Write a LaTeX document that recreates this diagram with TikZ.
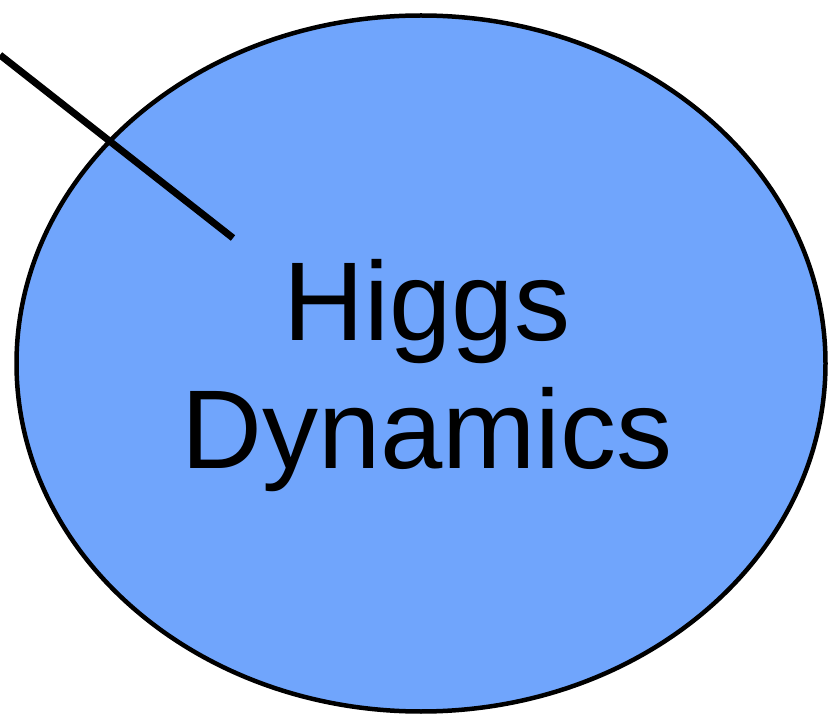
\documentclass[tikz,border=0pt]{standalone}
\usepackage{fontspec}
\setmainfont{Liberation Sans}
\usepackage{xcolor}
\usetikzlibrary{shapes.geometric, positioning}
\definecolor{higgsblue}{RGB}{112,165,252}

\begin{document}
\begin{tikzpicture}[x=1pt, y=1pt,
    blob/.style={ellipse, draw=black, line width=4.5pt, fill=higgsblue,
                 minimum width=809pt, minimum height=696pt, inner sep=0pt},
    bigtext/.style={align=center, font=\fontsize{112}{128}\selectfont},
    pointer/.style={line width=7pt}]

    % --- FRAME: same size as the reference, in pixels ---
    \useasboundingbox (0,0) rectangle (828,716);

    % --- MAIN ELLIPSE ---
    \node[blob] (higgs) at (421,352.5) {};

    % --- LABEL ---
    \node[bigtext] (name) at (427,340) {Higgs\\Dynamics};

    % --- POINTER LINE (comes in from the top left) ---
    \coordinate (tail) at (0,661);
    \coordinate (tip) at (233,478);
    \draw[pointer] (tail) -- (tip);

\end{tikzpicture}
\end{document}
